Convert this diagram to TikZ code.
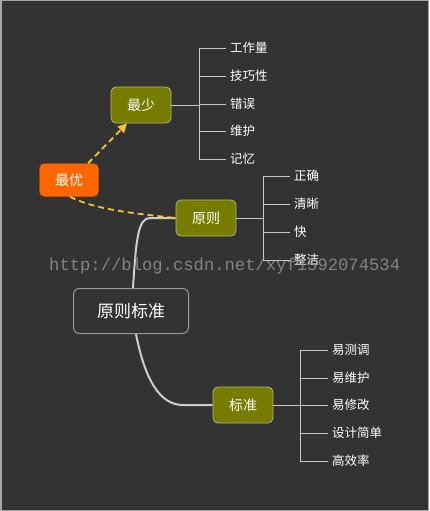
\documentclass[tikz,border=0pt]{standalone}
\usepackage{fontspec}
\newfontfamily\cjk{Noto Sans CJK SC}
\newfontfamily\wmfont{Liberation Mono}
\usetikzlibrary{arrows.meta}
\definecolor{bg}{HTML}{333333}
\definecolor{olive}{HTML}{767C00}
\definecolor{oliveb}{HTML}{B4B874}
\definecolor{orng}{HTML}{FF6600}
\definecolor{lineg}{HTML}{C8C8C8}
\definecolor{dashy}{HTML}{F2C42A}
\tikzset{
  topic/.style={draw=oliveb, fill=olive, line width=0.8pt, rounded corners=5pt,
    minimum width=60pt, minimum height=36pt, text=white, font=\cjk\fontsize{14}{16}\selectfont, inner sep=0pt},
  root/.style={draw=gray!80, fill=bg, line width=1pt, rounded corners=6pt,
    minimum width=115pt, minimum height=45pt, text=white, font=\cjk\fontsize{17}{20}\selectfont, inner sep=0pt},
  hot/.style={draw=orng!80!black, fill=orng, rounded corners=5pt,
    minimum width=59pt, minimum height=33pt, text=white, font=\cjk\fontsize{14}{16}\selectfont, inner sep=0pt},
  leaf/.style={anchor=west, text=white, font=\cjk\fontsize{12.5}{14}\selectfont, inner sep=1pt},
  br/.style={draw=lineg, line width=0.9pt},
  trunk/.style={draw=lineg!90, line width=2pt},
  rel/.style={draw=dashy, line width=1.8pt, dash pattern=on 6pt off 4pt},
}
\begin{document}
\begin{tikzpicture}[x=1pt,y=-1pt]
\fill[bg] (0,0) rectangle (429,511);
\draw[gray!70, line width=1.5pt] (0.75,0.75) rectangle (428.25,510.25);
\useasboundingbox (0,0) rectangle (429,511);

% nodes
\node[hot] (zy) at (69,180) {最优};
\node[topic] (zs) at (141,105) {最少};
\node[topic] (yz) at (206,218) {原则};
\node[root] (root) at (131,311) {原则标准};
\node[topic] (bz) at (243,405) {标准};

% trunk connectors
\draw[trunk] (root.north -| 133,0) .. controls (136,240) and (138,218) .. (150,218) -- (yz.west);
\draw[trunk] (root.south -| 136,0) .. controls (145,380) and (160,405) .. (183,405) -- (bz.west);

% 最少 leaves
\draw[br] (zs.east) -- (199,105);
\draw[br] (199,48) -- (199,160);
\foreach \t/\y/\n in {工作量/48/a1,技巧性/76/a2,错误/104/a3,维护/131/a4,记忆/159/a5}{
  \node[leaf] (\n) at (229,\y) {\t};
  \draw[br] (199,\y) -- ([xshift=-3pt]\n.west);
}

% 原则 leaves
\draw[br] (yz.east) -- (263,218);
\draw[br] (263,176) -- (263,260);
\foreach \t/\y/\n in {正确/176/b1,清晰/204/b2,快/232/b3,整洁/260/b4}{
  \node[leaf] (\n) at (293,\y) {\t};
  \draw[br] (263,\y) -- ([xshift=-3pt]\n.west);
}

% 标准 leaves
\draw[br] (bz.east) -- (300,405);
\draw[br] (300,350) -- (300,461);
\foreach \t/\y/\n in {易测调/350/c1,易维护/378/c2,易修改/405/c3,设计简单/433/c4,高效率/461/c5}{
  \node[leaf] (\n) at (331,\y) {\t};
  \draw[br] (300,\y) -- ([xshift=-3pt]\n.west);
}

% dashed relations
\draw[rel, -{Triangle[length=9pt,width=9pt]}] (zy.north -| 88,0) -- (zs.south -| 127,0);
\draw[rel] (zy.south -| 70,0) .. controls (95,210) and (140,214) .. (yz.west);

% watermark
\node[text=gray!75, opacity=0.75, font=\wmfont\fontsize{17.2}{20}\selectfont, anchor=west, inner sep=0pt] (wm) at (49,266) {http://blog.csdn.net/xyf1592074534};
\end{tikzpicture}
\end{document}
